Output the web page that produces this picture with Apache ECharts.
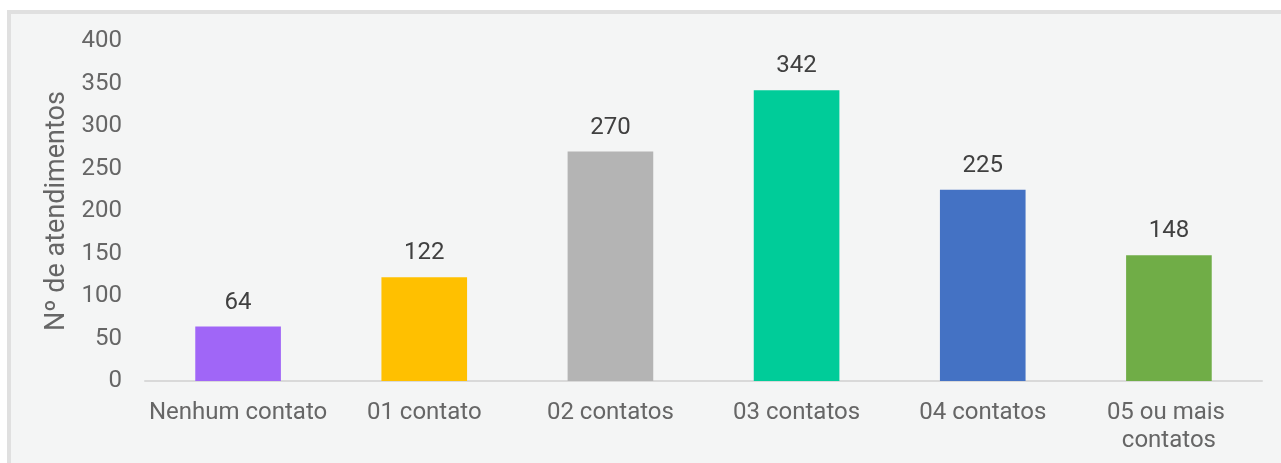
<!DOCTYPE html>
<html>
<head>
<meta charset="utf-8">
<script src="https://cdn.jsdelivr.net/npm/echarts@6/dist/echarts.min.js"></script>
<style>
	html, body { margin: 0; padding: 0; background: #ffffff; }
	#frame {
		position: absolute; left: 7px; top: 10px; width: 1274px; height: 453px;
		background: #f4f5f5; border-top: 4px solid #e0e0e0; border-left: 4px solid #e0e0e0;
		box-sizing: border-box;
	}
	#main { position: absolute; left: 0; top: 0; width: 1281px; height: 463px; }
</style>
</head>
<body>
<div id="frame"></div>
<div id="main"></div>
<script>
var categories = ['Nenhum contato', '01 contato', '02 contatos', '03 contatos', '04 contatos', '05 ou mais contatos'];
var values = [64, 122, 270, 342, 225, 148];
var barColors = ['#a066f7', '#ffc000', '#b4b4b4', '#00cc99', '#4472c4', '#70ad47'];
var yTicks = [0, 50, 100, 150, 200, 250, 300, 350, 400];

var myChart = echarts.init(document.getElementById('main'));

var option = {
	backgroundColor: 'transparent',
	textStyle: { fontFamily: 'Roboto' },
	grid: { left: 145, right: 19, top: 41, bottom: 82 },
	xAxis: {
		type: 'category',
		data: categories,
		axisLine: { lineStyle: { color: '#d9d9d9', width: 2 } },
		axisTick: { show: false },
		axisLabel: {
			color: '#666666', fontSize: 24, margin: 18, interval: 0,
			width: 184, overflow: 'break', lineHeight: 28
		}
	},
	yAxis: {
		type: 'value',
		min: yTicks[0],
		max: yTicks[yTicks.length - 1],
		interval: 50,
		name: 'Nº de atendimentos',
		nameLocation: 'middle',
		nameGap: 72,
		nameTextStyle: { color: '#666666', fontSize: 27 },
		splitLine: { show: false },
		axisLine: { show: false },
		axisTick: { show: false },
		axisLabel: { color: '#666666', fontSize: 24, margin: 23 }
	},
	series: [{
		type: 'bar',
		barWidth: '46%',
		data: values.map(function(v, i) {
			return { value: v, itemStyle: { color: barColors[i] } };
		}),
		label: {
			show: true, position: 'top', distance: 12,
			color: '#404040', fontSize: 24
		}
	}]
};

myChart.setOption(option);
</script>
</body>
</html>
